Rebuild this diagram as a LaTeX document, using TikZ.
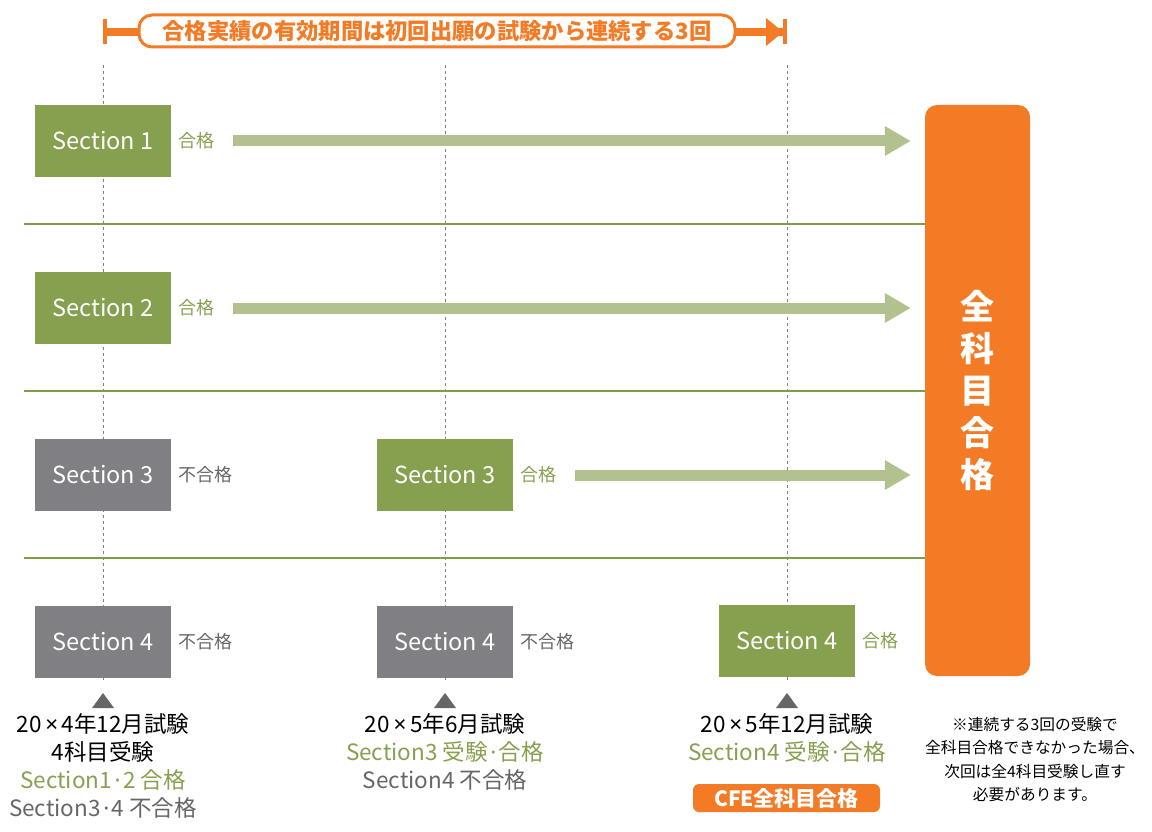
\documentclass[tikz,border=0pt]{standalone}
\usepackage{fontspec}
\setmainfont{Noto Sans CJK JP}
\newfontfamily\latinfont{Noto Sans}
\usetikzlibrary{arrows.meta,positioning}
\definecolor{passgreen}{HTML}{87A04F}
\definecolor{arrowgreen}{HTML}{B3C18E}
\definecolor{linegreen}{HTML}{7E9E48}
\definecolor{failgray}{HTML}{7F7F84}
\definecolor{notegray}{HTML}{666666}
\definecolor{markgray}{HTML}{666666}
\definecolor{cfeorange}{HTML}{F47B25}
\newcommand{\tms}{{\latinfont\,×\,}}
\newcommand{\mdot}{\makebox[0.5em]{\latinfont ·}}
\tikzset{
  secbox/.style={inner sep=0pt, minimum width=136pt, minimum height=72pt, text=white, font=\fontsize{23.5}{23.5}\selectfont},
  passbox/.style={secbox, fill=passgreen},
  failbox/.style={secbox, fill=failgray},
  passnote/.style={inner sep=0pt, anchor=west, text=passgreen, font=\fontsize{18}{18}\selectfont},
  failnote/.style={passnote, text=notegray},
  passarrow/.style={arrowgreen, line width=11pt, -{Triangle[length=26pt,width=28pt]}, shorten >=14pt},
  guide/.style={gray, line width=0.8pt, dash pattern=on 3pt off 3pt},
  rowline/.style={linegreen, line width=1.2pt},
  datetext/.style={inner sep=0pt, anchor=north, align=center, font=\fontsize{22.5}{28}\selectfont},
}
\begin{document}
\begin{tikzpicture}[x=1pt,y=-1pt]
    \useasboundingbox (0,0) rectangle (1152,832);
    % guides and rows
    \foreach \x in {103,445,787} {\draw[guide] (\x,65) -- (\x,680);}
    \foreach \y in {224,391,558} {\draw[rowline] (24,\y) -- (925,\y);}
    % validity span
    \coordinate (t1) at (103,32);
    \coordinate (t3) at (787,32);
    \draw[cfeorange, line width=8pt, {Bar[width=25pt,line width=4pt]}-{Triangle[length=17pt,width=27pt]Bar[width=25pt,line width=4pt]}] (t1) -- (t3);
    \node[draw=cfeorange, line width=3pt, fill=white, rounded corners=13pt, minimum width=596pt, minimum height=32pt, inner sep=0pt,
          text=cfeorange, font=\fontsize{22.3}{22.3}\selectfont\bfseries] (span) at (437,31) {合格実績の有効期間は初回出願の試験から連続する3回};
    % sections
    \node[passbox] (s1) at (103,141) {Section 1};
    \node[passbox] (s2) at (103,308) {Section 2};
    \node[failbox] (s3a) at (103,475) {Section 3};
    \node[passbox] (s3b) at (445,475) {Section 3};
    \node[failbox] (s4a) at (103,642) {Section 4};
    \node[failbox] (s4b) at (445,642) {Section 4};
    \node[passbox] (s4c) at (787,641) {Section 4};
    \node[passnote, right=7pt of s1] (r1) {合格};
    \node[passnote, right=7pt of s2] (r2) {合格};
    \node[failnote, right=7pt of s3a] (r3a) {不合格};
    \node[passnote, right=7pt of s3b] (r3b) {合格};
    \node[failnote, right=7pt of s4a] (r4a) {不合格};
    \node[failnote, right=7pt of s4b] (r4b) {不合格};
    \node[passnote, right=7pt of s4c] (r4c) {合格};
    % all passed
    \node[fill=cfeorange, rounded corners=12pt, minimum width=105pt, minimum height=571pt, inner sep=0pt, align=center,
          text=white, font=\fontsize{34}{42}\selectfont\bfseries] (goal) at (977.5,390.5) {全\\科\\目\\合\\格};
    \foreach \r in {r1,r2,r3b} {\draw[passarrow] ([xshift=18pt]\r.east) -- (\r.east -| goal.west);}
    % exams
    \foreach \x in {103,445,787} {\fill[markgray] (\x-11,708) -- (\x+11,708) -- (\x,693) -- cycle;}
    \node[datetext] (d1) at (103,713) {20\tms{}4年12月試験\\4科目受験\\\textcolor{passgreen}{Section1\mdot{}2 合格}\\\textcolor{notegray}{Section3\mdot{}4 不合格}};
    \node[datetext] (d2) at (445,713) {20\tms{}5年6月試験\\\textcolor{passgreen}{Section3 受験\mdot{}合格}\\\textcolor{notegray}{Section4 不合格}};
    \node[datetext] (d3) at (787,713) {20\tms{}5年12月試験\\\textcolor{passgreen}{Section4 受験\mdot{}合格}};
    \node[fill=cfeorange, rounded corners=6pt, minimum width=187pt, minimum height=28pt, inner sep=0pt,
          text=white, font=\fontsize{21}{21}\selectfont\bfseries] (cfe) at (786.5,798) {CFE全科目合格};
    \node[inner sep=0pt, anchor=north, align=center, font=\fontsize{15.7}{23.5}\selectfont] (note) at (1035,717)
        {※連続する3回の受験で\\全科目合格できなかった場合、\\次回は全4科目受験し直す\\必要があります。};
\end{tikzpicture}
\end{document}
